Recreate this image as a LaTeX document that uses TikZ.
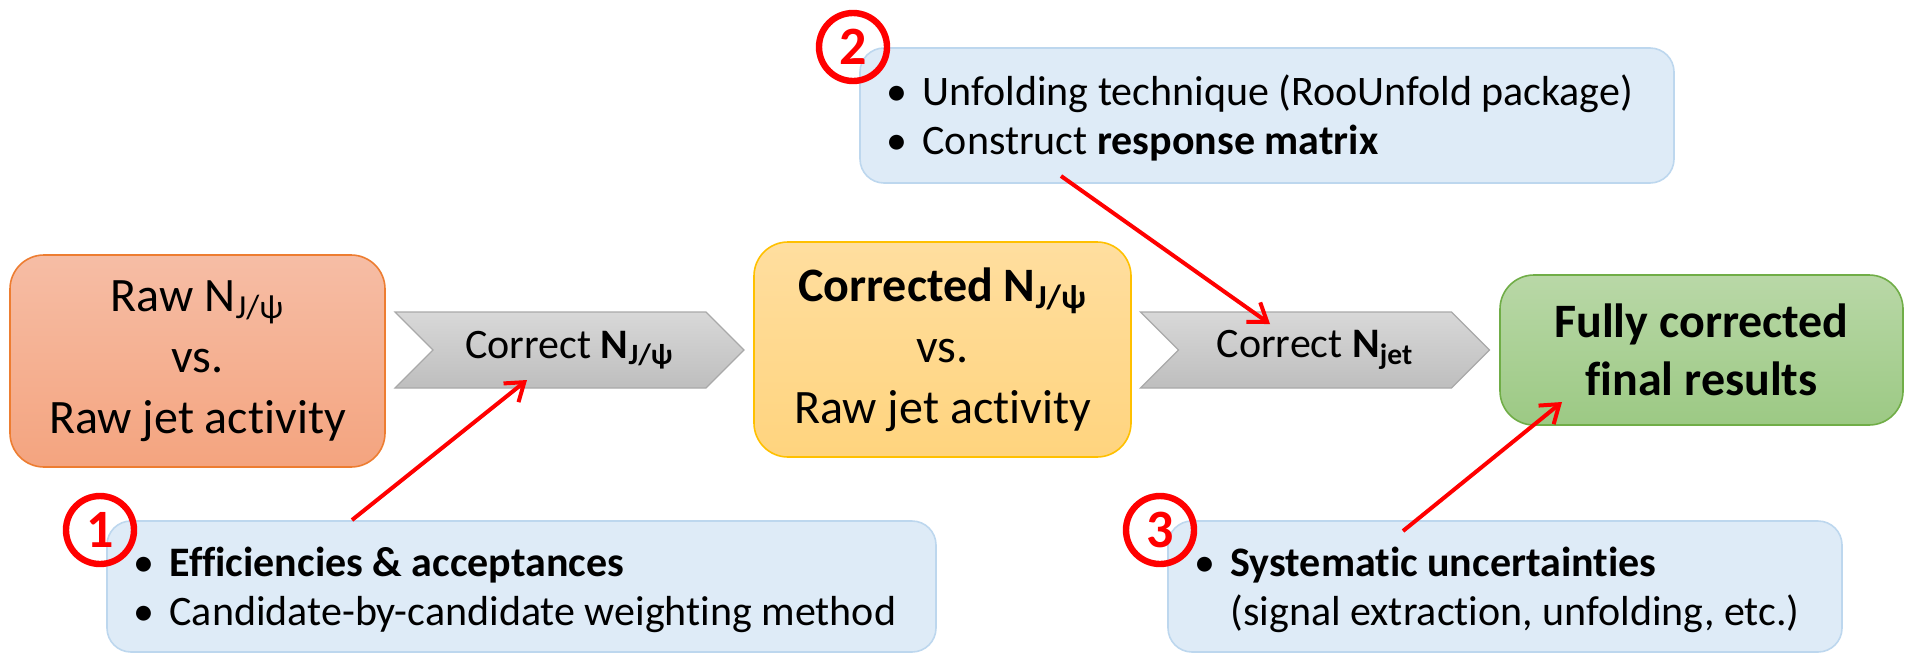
\documentclass[tikz,border=0pt]{standalone}
\usepackage{fontspec}
\setmainfont{Carlito}[Ligatures={NoCommon,NoRare,NoContextual},Contextuals=NoAlternate]
\usetikzlibrary{shapes.symbols,arrows.meta}
\definecolor{rawtop}{HTML}{F6BDA5}
\definecolor{rawbot}{HTML}{F4A47F}
\definecolor{rawborder}{HTML}{ED7D31}
\definecolor{yeltop}{HTML}{FFDE9F}
\definecolor{yelbot}{HTML}{FFD47E}
\definecolor{yelborder}{HTML}{FFC000}
\definecolor{grntop}{HTML}{B9D8A7}
\definecolor{grnbot}{HTML}{9CC984}
\definecolor{grnborder}{HTML}{70AD47}
\definecolor{graytop}{HTML}{D8D8D8}
\definecolor{graybot}{HTML}{BEBEBE}
\definecolor{grayborder}{HTML}{A9A9A9}
\definecolor{bluefill}{HTML}{DEEBF7}
\definecolor{blueborder}{HTML}{BDD7EE}
\begin{document}
\begin{tikzpicture}[x=0.5pt,y=-0.5pt,
  mainbox/.style={rounded corners=17pt, line width=0.8pt, align=center, inner sep=0pt,
    font=\fontsize{24}{30.5}\selectfont},
  chev/.style={signal, signal to=east, signal from=west, signal pointer angle=90,
    top color=graytop, bottom color=graybot, draw=grayborder, line width=0.6pt,
    inner sep=0pt, minimum width=174.5pt, minimum height=38pt,
    font=\fontsize{21}{25}\selectfont},
  infobox/.style={rounded corners=12pt, fill=bluefill, draw=blueborder, line width=0.8pt,
    inner sep=0pt},
  infotext/.style={anchor=west, align=left, inner sep=0pt, xshift=13.5pt,
    font=\fontsize{21}{24.5}\selectfont},
  numcirc/.style={circle, draw=red, line width=3.2pt, minimum size=34pt, inner sep=0pt,
    text=red, font=\bfseries\fontsize{27}{27}\selectfont},
  redarrow/.style={draw=red, line width=2pt,
    -{Straight Barb[length=8.5pt,width=12pt]}}
]
\useasboundingbox (0,0) rectangle (1905,654);

% main flow
\node[mainbox, top color=rawtop, bottom color=rawbot, draw=rawborder,
  minimum width=187.5pt, minimum height=106pt] (raw) at (197.5,361)
  {Raw N\textsubscript{J/ψ}\\vs.\\Raw jet activity};
\node[chev] (c1) at (569.5,350) {Correct \textbf{N}\textsubscript{\textbf{J/ψ}}};
\node[mainbox, top color=yeltop, bottom color=yelbot, draw=yelborder,
  minimum width=188.5pt, minimum height=107.5pt] (cor) at (942.5,349.5)
  {\textbf{Corrected N\textsubscript{J/ψ}}\\vs.\\Raw jet activity};
\node[chev] (c2) at (1315,350) {Correct \textbf{N}\textsubscript{\textbf{jet}}};
\node[mainbox, top color=grntop, bottom color=grnbot, draw=grnborder,
  minimum width=201.5pt, minimum height=75pt,
  font=\bfseries\fontsize{24}{29}\selectfont] (fin) at (1701.5,350)
  {Fully corrected\\final results};

% info boxes
\node[infobox, minimum width=414.5pt, minimum height=65.5pt] (b1) at (521.5,586.5) {};
\node[infotext, yshift=-1.5pt] (t1) at (b1.west)
  {\makebox[18pt][l]{•}\textbf{Efficiencies \& acceptances}\\
   \makebox[18pt][l]{•}Candidate-by-candidate weighting method};

\node[infobox, minimum width=407pt, minimum height=67.5pt] (b2) at (1267,115.5) {};
\node[infotext, yshift=-1pt] (t2) at (b2.west)
  {\makebox[18pt][l]{•}Unfolding technique (RooUnfold package)\\
   \makebox[18pt][l]{•}Construct \textbf{response matrix}};

\node[infobox, minimum width=337pt, minimum height=65.5pt] (b3) at (1505,586.5) {};
\node[infotext, yshift=-1.5pt] (t3) at (b3.west)
  {\makebox[18pt][l]{•}\textbf{Systematic uncertainties}\\
   \hspace*{18pt}(signal extraction, unfolding, etc.)};

% numbered circles
\node[numcirc] (n1) at (100,530) {1};
\node[numcirc] (n2) at (853,47) {2};
\node[numcirc] (n3) at (1160,530) {3};

% arrows
\coordinate (a1s) at (352,520);
\coordinate (a1e) at (527,380);
\coordinate (a2s) at (1061,176);
\coordinate (a2e) at (1270,324);
\coordinate (a3s) at (1403,531);
\coordinate (a3e) at (1562,402);
\draw[redarrow] (a1s) -- (a1e);
\draw[redarrow] (a2s) -- (a2e);
\draw[redarrow] (a3s) -- (a3e);
\end{tikzpicture}
\end{document}
